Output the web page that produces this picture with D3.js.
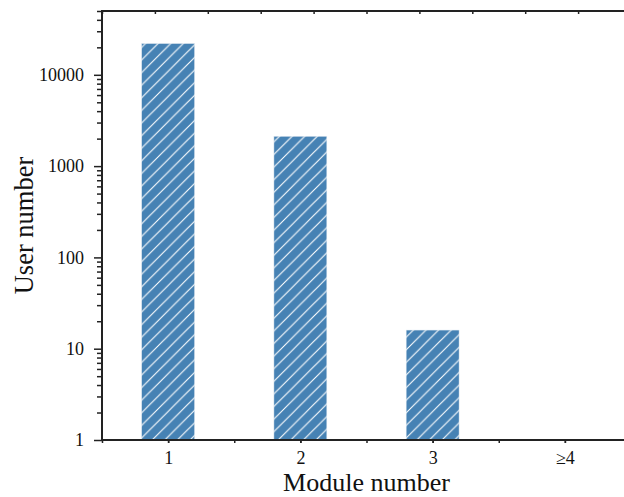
<!DOCTYPE html>
<html><head><meta charset="utf-8">
<script src="https://cdn.jsdelivr.net/npm/d3@7"></script>
<style>html,body{margin:0;padding:0;background:#fff;}svg{display:block;}</style>
</head><body>
<script>
const categories = ["1", "2", "3", "≥4"];
const userCounts = [22000, 2120, 16, null];
const yTickValues = [1, 10, 100, 1000, 10000];
const xLabel = "Module number";
const yLabel = "User number";

const W = 624, H = 497;
const m = {left: 102, top: 11, right: 631, bottom: 440};
const font = "'Liberation Serif','Times New Roman',serif";
const axisColor = "#222";

const svg = d3.select("body").append("svg").attr("width", W).attr("height", H);

const x = d3.scaleLinear().domain([-0.5, categories.length - 0.5]).range([m.left, m.right]);
const xTop = d3.scaleLinear().domain([0, 10]).range([m.left, m.right]);
const y = d3.scaleLog().domain([1, 50000]).range([m.bottom, m.top]);

// hatch pattern
const s = 12.6;
const pat = svg.append("defs").append("pattern")
  .attr("id", "hatch").attr("patternUnits", "userSpaceOnUse")
  .attr("width", s).attr("height", s);
pat.append("rect").attr("width", s).attr("height", s).attr("fill", "#4682B4");
pat.append("path")
  .attr("d", `M-2,2 L2,-2 M0,${s} L${s},0 M${s-2},${s+2} L${s+2},${s-2}`)
  .attr("stroke", "#fff").attr("stroke-width", 1.1);

const barW = 0.4;
const data = categories.map((c, i) => ({c, i, v: userCounts[i]})).filter(d => d.v != null && d.v > 0);
svg.append("g").selectAll("rect").data(data).join("rect")
  .attr("x", d => x(d.i - barW / 2))
  .attr("width", d => x(d.i + barW / 2) - x(d.i - barW / 2))
  .attr("y", d => y(d.v))
  .attr("height", d => y(1) - y(d.v))
  .attr("fill", "url(#hatch)")
  .attr("stroke", "#dfe8f0").attr("stroke-width", 0.5);

// y axis (log) with minor ticks
const minor = [];
for (let e = 0; e < 5; e++) for (let k = 2; k <= 9; k++) { const v = k * Math.pow(10, e); if (v <= 50000) minor.push(v); }
const gyMin = svg.append("g").attr("transform", `translate(${m.left},0)`)
  .call(d3.axisLeft(y).tickValues(minor).tickSize(5).tickFormat(""));
gyMin.select(".domain").remove();
gyMin.selectAll("line").attr("stroke", axisColor).attr("stroke-width", 1.5);

const gy = svg.append("g").attr("transform", `translate(${m.left},0)`)
  .call(d3.axisLeft(y).tickValues(yTickValues).tickSize(8).tickPadding(10).tickFormat(d3.format("d")));
gy.select(".domain").remove();
gy.selectAll("line").attr("stroke", axisColor).attr("stroke-width", 1.5);
gy.selectAll("text").attr("font-family", font).attr("font-size", 18).attr("fill", "#111");

// bottom axis
const halfTicks = d3.range(-0.5, categories.length, 0.5);
const gxMin = svg.append("g").attr("transform", `translate(0,${m.bottom})`)
  .call(d3.axisBottom(x).tickValues(halfTicks).tickSize(3).tickFormat(""));
gxMin.select(".domain").remove();
gxMin.selectAll("line").attr("stroke", axisColor).attr("stroke-width", 1.5);

const gx = svg.append("g").attr("transform", `translate(0,${m.bottom})`)
  .call(d3.axisBottom(x).tickValues(d3.range(categories.length)).tickSize(3).tickPadding(8).tickFormat(i => categories[i]));
gx.select(".domain").remove();
gx.selectAll("line").attr("stroke", axisColor).attr("stroke-width", 1.5);
gx.selectAll("text").attr("font-family", font).attr("font-size", 18).attr("fill", "#111");

// top axis ticks
const gt = svg.append("g").attr("transform", `translate(0,${m.top})`)
  .call(d3.axisBottom(xTop).ticks(10).tickSize(3).tickFormat(""));
gt.select(".domain").remove();
gt.selectAll("line").attr("stroke", axisColor).attr("stroke-width", 1.5);

// spines
svg.append("line").attr("x1", m.left).attr("x2", m.left).attr("y1", m.top - 1).attr("y2", m.bottom + 1)
  .attr("stroke", axisColor).attr("stroke-width", 2);
svg.append("line").attr("x1", m.left - 1).attr("x2", m.right).attr("y1", m.bottom).attr("y2", m.bottom)
  .attr("stroke", axisColor).attr("stroke-width", 2);
svg.append("line").attr("x1", m.left - 1).attr("x2", m.right).attr("y1", m.top).attr("y2", m.top)
  .attr("stroke", axisColor).attr("stroke-width", 2);

// labels
svg.append("text").attr("x", (m.left + m.right) / 2).attr("y", 491)
  .attr("text-anchor", "middle").attr("font-family", font).attr("font-size", 26).attr("fill", "#111")
  .text(xLabel);
svg.append("text").attr("transform", `translate(33,${(m.top + m.bottom) / 2}) rotate(-90)`)
  .attr("text-anchor", "middle").attr("font-family", font).attr("font-size", 26.5).attr("fill", "#111")
  .text(yLabel);
</script>
</body></html>
